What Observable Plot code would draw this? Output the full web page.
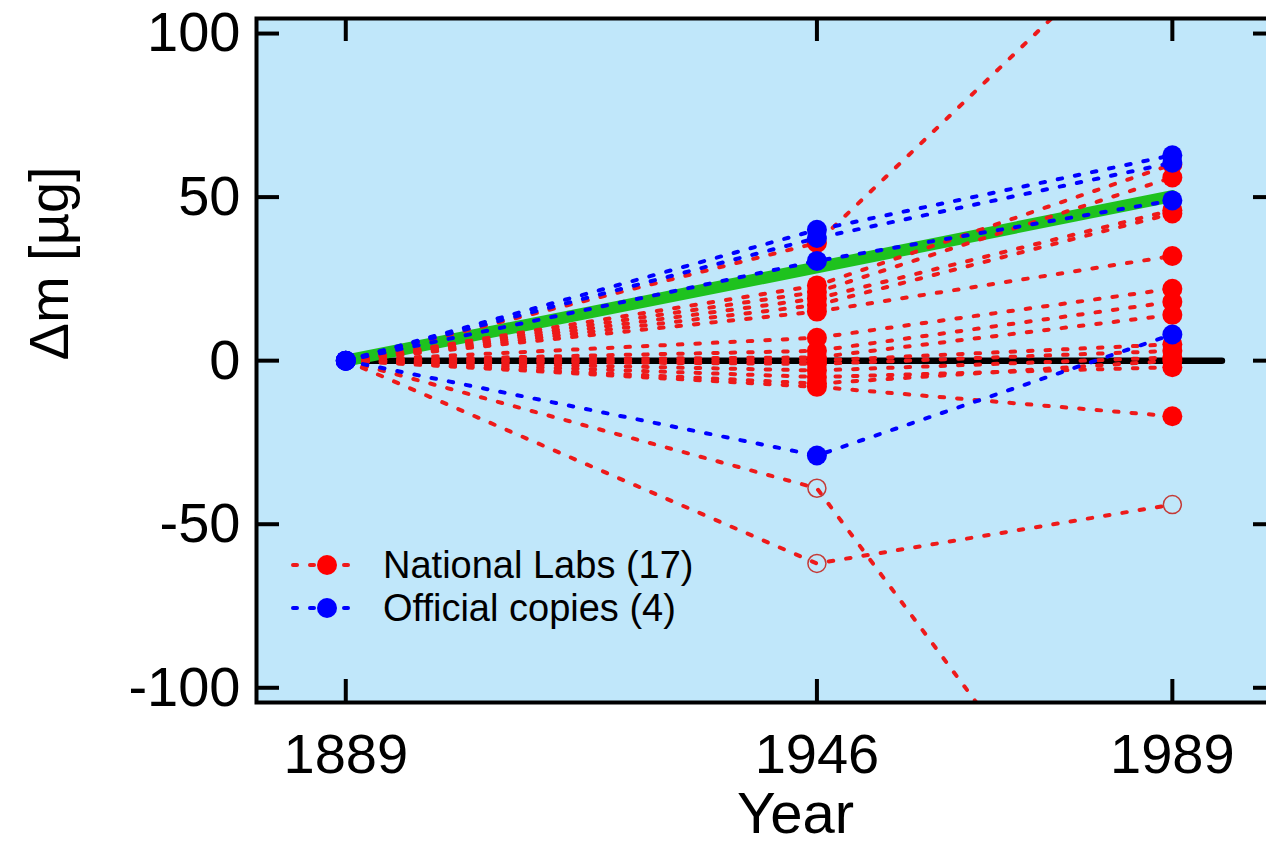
<!DOCTYPE html>
<html>
<head>
<meta charset="utf-8">
<script src="https://cdn.jsdelivr.net/npm/d3@7"></script>
<script src="https://cdn.jsdelivr.net/npm/@observablehq/plot@0.6"></script>
<style>
  html, body { margin: 0; padding: 0; background: #fff; overflow: hidden; }
  #wrap { position: relative; width: 1266px; height: 865px; overflow: hidden; }
  #wrap > svg { max-width: none !important; display: block; }
  #legend { position: absolute; left: 0; top: 0; }
  svg { font-family: "Liberation Sans", Arial, sans-serif; }
</style>
</head>
<body>
<div id="wrap"></div>
<script>
// ---- data ----
const years = [1889, 1946, 1989];
// National labs (17): value at 1889 is 0 for all
const labs1946 = [23, 21, 19, 17, 15, 36, 7, 3, 1, 0, -1, -3, -5, -8, -7, -39, -62];
const labs1989 = [60, 56, 46, 45, 32, 140, 22, 18, 14, 5, 3, 1, -2, -17, 0, -185, -44];
// hollow markers (flagged measurements): [lab index, year]
const labsOpen = [[15, 1946], [16, 1946], [16, 1989]];
// Official copies (4)
const copies1946 = [40, 37.5, 30.5, -29];
const copies1989 = [62.8, 60.5, 49, 8];
// mean trend (green) and reference (black)
const meanYears = [1889, 1946, 1989];
const meanValues = [0, 28.5, 50.3];
const refYears = [1889, 1995];
const refValues = [0, 0];
// axis ticks
const xTicks = [1889, 1946, 1989];
const yTicks = [-100, -50, 0, 50, 100];
const legendLabels = ["National Labs (17)", "Official copies (4)"];

// ---- build tables ----
const isOpen = (i, y) => labsOpen.some(([k, yy]) => k === i && yy === y);
const labRows = [];
labs1946.forEach((v, i) => {
  [0, v, labs1989[i]].forEach((val, j) =>
    labRows.push({id: "L" + i, year: years[j], value: val, open: isOpen(i, years[j])}));
});
const copyRows = [];
copies1946.forEach((v, i) => {
  [0, v, copies1989[i]].forEach((val, j) =>
    copyRows.push({id: "C" + i, year: years[j], value: val}));
});
const meanRows = meanYears.map((y, i) => ({year: y, value: meanValues[i]}));
const refRows = refYears.map((y, i) => ({year: y, value: refValues[i]}));

const W = 1290, H = 865, mL = 256, mR = 14, mT = 18, mB = 163;
const innerW = W - mL - mR, innerH = H - mT - mB;
const tickLen = 23;
const RED = "#ff0000", REDLINE = "#ee1a1a", BLUE = "#0000ff", GREEN = "#1ec21e", BG = "#c0e7fa";
const dash = "4.5,13";

const chart = Plot.plot({
  width: W, height: H,
  marginLeft: mL, marginRight: mR, marginTop: mT, marginBottom: mB,
  x: {domain: [1878.2, 2001.6]},
  y: {domain: [-104.5, 104.6]},
  style: {fontFamily: "'Liberation Sans', Arial, sans-serif", fontSize: "56px", color: "black", background: "white", maxWidth: "none"},
  marks: [
    Plot.frame({fill: BG, stroke: null}),
    Plot.line(refRows, {x: "year", y: "value", stroke: "black", strokeWidth: 6.5}),
    Plot.line(meanRows, {x: "year", y: "value", stroke: GREEN, strokeWidth: 12}),
    Plot.line(labRows, {x: "year", y: "value", z: "id", stroke: REDLINE, strokeWidth: 4,
      strokeDasharray: dash, strokeLinecap: "round", clip: true}),
    Plot.dot(labRows.filter(d => d.year !== 1889 && !d.open), {x: "year", y: "value", r: 10,
      fill: RED, stroke: null, clip: true}),
    Plot.dot(labRows.filter(d => d.open), {x: "year", y: "value", r: 9,
      fill: "none", stroke: "#c43a36", strokeWidth: 1.5, clip: true}),
    Plot.line(copyRows, {x: "year", y: "value", z: "id", stroke: BLUE, strokeWidth: 4,
      strokeDasharray: dash, strokeLinecap: "round", clip: true}),
    Plot.dot(copyRows, {x: "year", y: "value", r: 10, fill: BLUE, stroke: null, clip: true}),
    // inward ticks on all four sides
    Plot.ruleX(xTicks, {x: d => d, insetTop: innerH - tickLen, stroke: "black", strokeWidth: 4}),
    Plot.ruleX(xTicks, {x: d => d, insetBottom: innerH - tickLen, stroke: "black", strokeWidth: 4}),
    Plot.ruleY(yTicks, {y: d => d, insetRight: innerW - tickLen, stroke: "black", strokeWidth: 4}),
    Plot.ruleY(yTicks, {y: d => d, insetLeft: innerW - tickLen, stroke: "black", strokeWidth: 4}),
    Plot.frame({stroke: "black", strokeWidth: 4}),
    Plot.axisX(xTicks, {tickSize: 0, tickPadding: 31, tickFormat: d => String(d), label: null, fontSize: 56}),
    Plot.axisY(yTicks, {tickSize: 0, tickPadding: 16, tickFormat: d => String(d), label: null, fontSize: 56}),
    Plot.text(["Year"], {frameAnchor: "bottom", lineAnchor: "middle", text: d => d, dy: 112, dx: 29, fontSize: 58}),
    Plot.text(["Δm [µg]"], {frameAnchor: "left", lineAnchor: "middle", text: d => d, dx: -206, rotate: -90, fontSize: 56})
  ]
});
document.getElementById("wrap").appendChild(chart);

// legend overlay
const lg = d3.select("#wrap").append("svg").attr("id", "legend")
  .attr("width", 1266).attr("height", 865);
const rows = lg.selectAll("g").data(legendLabels).join("g")
  .attr("transform", (d, i) => `translate(0,${565 + i * 43})`);
rows.append("line").attr("x1", 293).attr("x2", 353).attr("y1", 0).attr("y2", 0)
  .attr("stroke", (d, i) => i ? BLUE : REDLINE).attr("stroke-width", 4)
  .attr("stroke-dasharray", "4,13").attr("stroke-linecap", "round");
rows.append("circle").attr("cx", 327).attr("cy", 0).attr("r", 10)
  .attr("fill", (d, i) => i ? BLUE : RED);
rows.append("text").attr("x", 383).attr("y", 13).attr("font-size", 38)
  .attr("fill", "black").text(d => d);
</script>
</body>
</html>
